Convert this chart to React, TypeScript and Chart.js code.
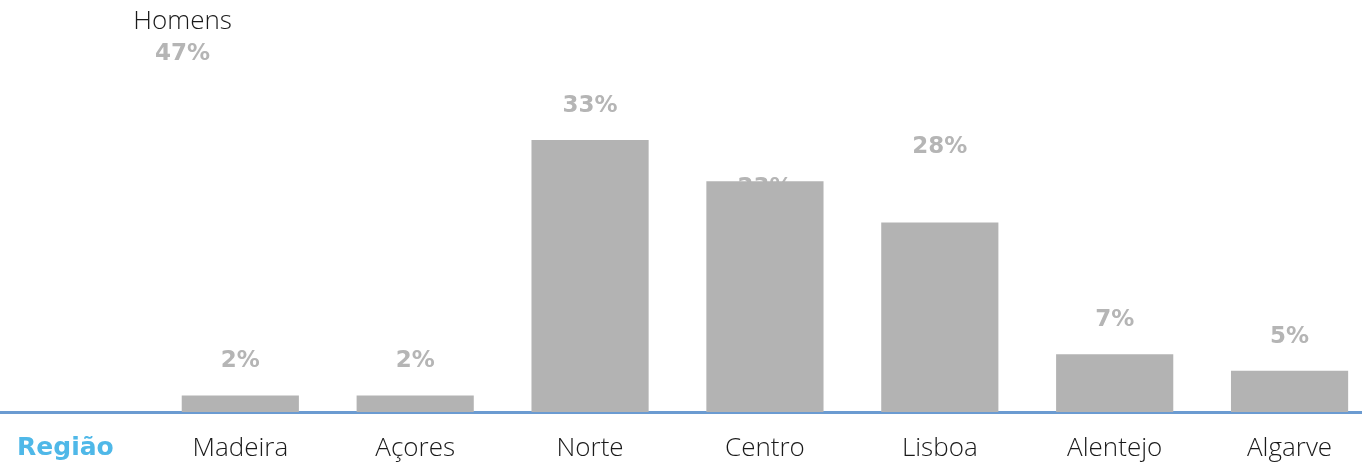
import React, { useEffect, useRef } from "react";
import { Chart, registerables } from "chart.js";

Chart.register(...registerables);

const categories = ["Região", "Madeira", "Açores", "Norte", "Centro", "Lisboa", "Alentejo", "Algarve"];
const barValues = [null, 2, 2, 33, 28, 23, 7, 5];
const labelValues = [null, 2, 2, 33, 23, 28, 7, 5];
const seriesName = "Homens";
const seriesTotal = 47;

const FONT = "'Open Sans', 'DejaVu Sans', sans-serif";
const BOLD_FONT = "'DejaVu Sans', sans-serif";

const labelsPlugin = {
  id: "valueLabels",
  beforeDatasetsDraw(chart: any) {
    const { ctx, scales } = chart;
    const meta = chart.getDatasetMeta(0);
    ctx.save();
    ctx.fillStyle = "#b5b5b5";
    ctx.font = `700 23px ${BOLD_FONT}`;
    ctx.textAlign = "center";
    ctx.textBaseline = "middle";
    labelValues.forEach((v, i) => {
      if (v == null) return;
      const x = meta.data[i].x;
      const y = scales.y.getPixelForValue(v) - 34;
      ctx.fillText(`${v}%`, x, y);
    });
    ctx.restore();
  },
  afterDraw(chart: any) {
    const { ctx, scales } = chart;
    const x0 = scales.x.getPixelForValue(0);
    const x1 = scales.x.getPixelForValue(1);
    const x = x0 + (x1 - x0) * 0.67;
    ctx.save();
    ctx.textAlign = "center";
    ctx.textBaseline = "middle";
    ctx.fillStyle = "#1a1a1a";
    ctx.font = `300 26px ${FONT}`;
    ctx.fillText(seriesName, x, 22);
    ctx.fillStyle = "#b5b5b5";
    ctx.font = `700 23px ${BOLD_FONT}`;
    ctx.fillText(`${seriesTotal}%`, x, 54);
    ctx.restore();
  },
};

export default function App() {
  const ref = useRef<HTMLCanvasElement>(null);
  useEffect(() => {
    if (!ref.current) return;
    const chart = new Chart(ref.current, {
      type: "bar",
      data: {
        labels: categories,
        datasets: [
          {
            label: seriesName,
            data: barValues as any,
            backgroundColor: "#b3b3b3",
            borderWidth: 0,
            barPercentage: 0.67,
            categoryPercentage: 1,
          },
        ],
      },
      options: {
        responsive: false,
        animation: false,
        devicePixelRatio: 1,
        layout: { padding: 0 },
        plugins: { legend: { display: false }, tooltip: { enabled: false } },
        scales: {
          x: {
            grid: { display: false, drawTicks: false },
            border: { display: true, color: "#6b9bd1", width: 3 },
            ticks: {
              padding: 21,
              color: (c: any) => (c.index === 0 ? "#4fb8e8" : "#1a1a1a"),
              font: (c: any) =>
                c.index === 0
                  ? { family: BOLD_FONT, size: 25, weight: "bold" }
                  : { family: FONT, size: 26, weight: "300" },
            },
            afterFit: (s: any) => {
              s.height = 52;
            },
          },
          y: { display: false, min: 0, max: 50 },
        },
      },
      plugins: [labelsPlugin],
    });
    return () => chart.destroy();
  }, []);
  return (
    <div style={{ position: "fixed", left: 0, top: 0, width: 1362, height: 464, overflow: "hidden", background: "#fff" }}>
      <canvas ref={ref} width={1399} height={464} style={{ position: "absolute", left: -22, top: 0 }} />
    </div>
  );
}
